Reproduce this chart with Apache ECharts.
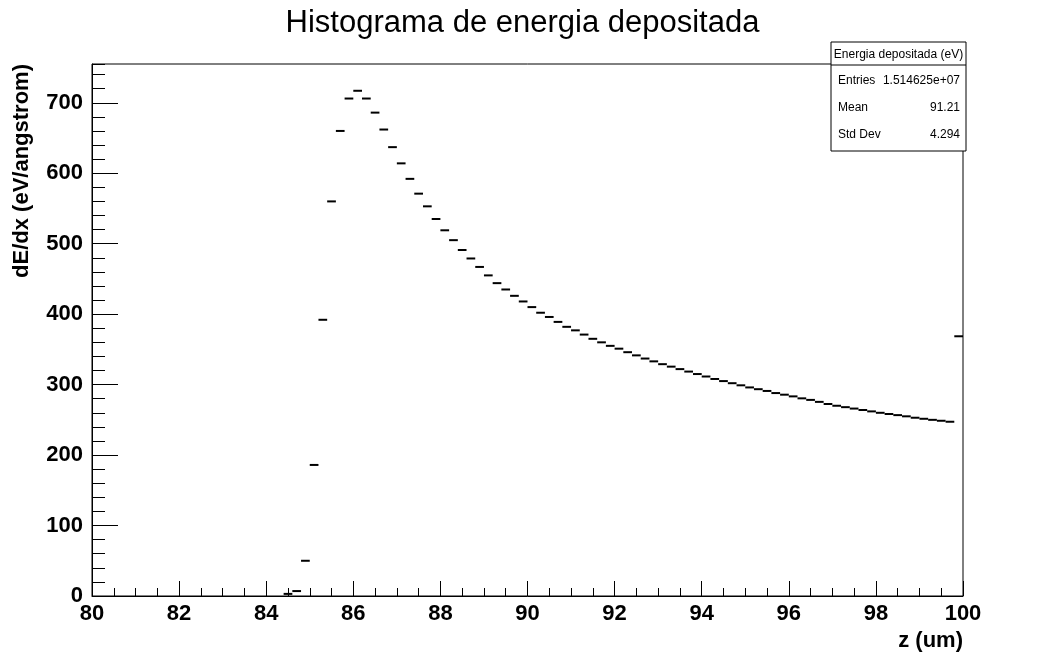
<!DOCTYPE html>
<html>
<head>
<meta charset="utf-8">
<title>Histograma de energia depositada</title>
<script src="https://cdn.jsdelivr.net/npm/echarts@6/dist/echarts.min.js"></script>
<style>
  html, body { margin: 0; padding: 0; background: #fff; }
  #chart { width: 1045px; height: 657px; }
</style>
</head>
<body>
<div id="chart"></div>
<script>
// Bin centres (um) of the filled bins, width 0.2 um
const binCenters = [
  84.5, 84.7, 84.9, 85.1, 85.3, 85.5, 85.7, 85.9, 86.1, 86.3,
  86.5, 86.7, 86.9, 87.1, 87.3, 87.5, 87.7, 87.9, 88.1, 88.3,
  88.5, 88.7, 88.9, 89.1, 89.3, 89.5, 89.7, 89.9, 90.1, 90.3,
  90.5, 90.7, 90.9, 91.1, 91.3, 91.5, 91.7, 91.9, 92.1, 92.3,
  92.5, 92.7, 92.9, 93.1, 93.3, 93.5, 93.7, 93.9, 94.1, 94.3,
  94.5, 94.7, 94.9, 95.1, 95.3, 95.5, 95.7, 95.9, 96.1, 96.3,
  96.5, 96.7, 96.9, 97.1, 97.3, 97.5, 97.7, 97.9, 98.1, 98.3,
  98.5, 98.7, 98.9, 99.1, 99.3, 99.5, 99.7, 99.9
];
// Deposited energy per bin, dE/dx (eV/angstrom)
const dEdx = [
  3, 7, 50, 186, 392, 560, 660, 706, 717, 706,
  686, 662, 637, 614, 592, 571, 553, 535, 519, 505,
  491, 479, 467, 455, 444, 435, 426, 418, 410, 402,
  396, 389, 382, 377, 371, 365, 360, 355, 351, 346,
  341.5, 337, 333, 329, 325.5, 322, 318.5, 315, 311.5, 308,
  305, 302, 299, 296, 293.5, 291, 288, 285.7, 283.3, 280.5,
  278.3, 275.5, 272.5, 270, 268, 266, 264, 262, 260, 258.3,
  256.7, 255, 253, 251.5, 250, 248.7, 247.3, 368.6
];
const BIN_WIDTH = 0.2;

// Statistics box contents
const statsTitle = 'Energia depositada (eV)';
const statsNames = ['Entries', 'Mean', 'Std Dev'];
const statsValues = ['1.514625e+07', '91.21', '4.294'];

const FONT = 'Liberation Sans, Arial, Helvetica, sans-serif';

const chart = echarts.init(document.getElementById('chart'), null, { renderer: 'canvas' });

const histData = binCenters.map((c, i) => [c, dEdx[i]]);

// Statistics box drawn as graphic elements
const boxX = 831, boxY = 42, boxW = 135, boxH = 109, headH = 23, rowH = 27;
const statsFont = '12px ' + FONT;
const statsGraphics = [
  { type: 'rect', shape: { x: boxX, y: boxY, width: boxW, height: boxH },
    style: { fill: '#fff', stroke: '#000', lineWidth: 1 }, z: 100 },
  { type: 'line', shape: { x1: boxX, y1: boxY + headH, x2: boxX + boxW, y2: boxY + headH },
    style: { stroke: '#000', lineWidth: 1 }, z: 101 },
  { type: 'text', x: boxX + boxW / 2, y: boxY + headH / 2 + 1, z: 101,
    style: { text: statsTitle, font: statsFont, fill: '#000', align: 'center', verticalAlign: 'middle' } }
];
statsNames.forEach((name, i) => {
  const cy = boxY + headH + rowH * (i + 0.5) + 2;
  statsGraphics.push({ type: 'text', x: boxX + 7, y: cy, z: 101,
    style: { text: name, font: statsFont, fill: '#000', align: 'left', verticalAlign: 'middle' } });
  statsGraphics.push({ type: 'text', x: boxX + boxW - 6, y: cy, z: 101,
    style: { text: statsValues[i], font: statsFont, fill: '#000', align: 'right', verticalAlign: 'middle' } });
});

const labelStyle = { color: '#000', fontSize: 22, fontWeight: 'bold', fontFamily: FONT };

const option = {
  backgroundColor: '#fff',
  animation: false,
  title: {
    text: 'Histograma de energia depositada',
    left: 'center', top: 3,
    textStyle: { color: '#000', fontSize: 31, fontWeight: 'normal', fontFamily: FONT }
  },
  grid: {
    left: 92, top: 64, width: 871, height: 532,
    show: true, borderColor: '#000', borderWidth: 1, backgroundColor: 'transparent'
  },
  xAxis: [
    {
      type: 'value', min: 80, max: 100, interval: 2, position: 'bottom',
      axisLine: { show: true, onZero: false, lineStyle: { color: '#000', width: 1 } },
      axisTick: { show: true, inside: true, length: 15, lineStyle: { color: '#000', width: 1 } },
      axisLabel: Object.assign({ margin: 7 }, labelStyle),
      splitLine: { show: false }
    },
    {
      type: 'value', min: 80, max: 100, interval: 0.5, position: 'bottom',
      axisLine: { show: false },
      axisTick: { show: true, inside: true, length: 8, lineStyle: { color: '#000', width: 1 } },
      axisLabel: { show: false },
      splitLine: { show: false }
    }
  ],
  yAxis: [
    {
      type: 'value', min: 0, max: 755, interval: 100, position: 'left',
      axisLine: { show: true, onZero: false, lineStyle: { color: '#000', width: 1 } },
      axisTick: { show: true, inside: true, length: 26, lineStyle: { color: '#000', width: 1 } },
      axisLabel: Object.assign({ margin: 9, showMaxLabel: false }, labelStyle),
      splitLine: { show: false }
    },
    {
      type: 'value', min: 0, max: 755, interval: 20, position: 'left',
      axisLine: { show: false },
      axisTick: { show: true, inside: true, length: 13, lineStyle: { color: '#000', width: 1 } },
      axisLabel: { show: false },
      splitLine: { show: false }
    }
  ],
  series: [
    {
      type: 'custom',
      xAxisIndex: 0, yAxisIndex: 0,
      data: histData,
      clip: true,
      renderItem: function (params, api) {
        const c = api.value(0), v = api.value(1);
        const p0 = api.coord([c - BIN_WIDTH / 2, v]);
        const p1 = api.coord([c + BIN_WIDTH / 2, v]);
        return {
          type: 'line',
          shape: { x1: p0[0], y1: p0[1], x2: p1[0], y2: p1[1] },
          style: { stroke: '#000', lineWidth: 2 }
        };
      }
    }
  ],
  graphic: [
    {
      type: 'text', x: 22, y: 64, rotation: Math.PI / 2,
      style: { text: 'dE/dx (eV/angstrom)', font: 'bold 22px ' + FONT, fill: '#000',
               align: 'right', verticalAlign: 'middle' }
    },
    {
      type: 'text', x: 963, y: 641,
      style: { text: 'z (um)', font: 'bold 22px ' + FONT, fill: '#000',
               align: 'right', verticalAlign: 'middle' }
    }
  ].concat(statsGraphics)
};

chart.setOption(option);
</script>
</body>
</html>
